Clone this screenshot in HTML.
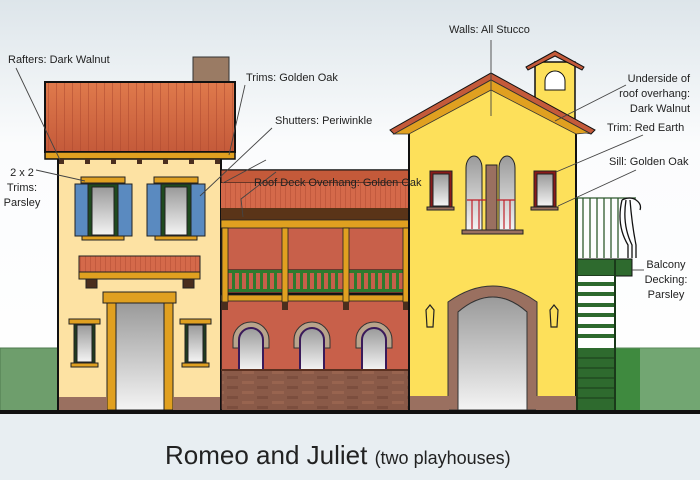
<!DOCTYPE html>
<html><head><meta charset="utf-8"><style>
html,body{margin:0;padding:0;width:700px;height:480px;overflow:hidden;background:#fff}
text{font-family:"Liberation Sans",Arial,sans-serif;fill:#222}
</style></head><body>
<svg width="700" height="480" viewBox="0 0 700 480" xmlns="http://www.w3.org/2000/svg">
<defs>
<linearGradient id="sky" x1="0" y1="0" x2="0" y2="1"><stop offset="0" stop-color="#dde5ea"/><stop offset="0.35" stop-color="#fbfcfd"/><stop offset="1" stop-color="#ffffff"/></linearGradient>
<linearGradient id="glass" x1="0" y1="0" x2="0" y2="1"><stop offset="0" stop-color="#9a9a9a"/><stop offset="1" stop-color="#f4f4f4"/></linearGradient>
<linearGradient id="roof" x1="0" y1="0" x2="0" y2="1"><stop offset="0" stop-color="#e07a4c"/><stop offset="1" stop-color="#c45a3a"/></linearGradient>
<pattern id="vl" width="8" height="10" patternUnits="userSpaceOnUse"><line x1="0.5" y1="0" x2="0.5" y2="10" stroke="#a8442c" stroke-width="0.8" opacity="0.6"/></pattern>
<pattern id="vl2" width="5" height="10" patternUnits="userSpaceOnUse"><line x1="0.5" y1="0" x2="0.5" y2="10" stroke="#a8442c" stroke-width="0.8" opacity="0.5"/></pattern>
<pattern id="brick" width="30" height="10" patternUnits="userSpaceOnUse"><rect width="30" height="10" fill="#8a5a48"/><rect x="2" y="1" width="12" height="3" fill="#98644f"/><rect x="17" y="6" width="11" height="3" fill="#7c4e3e"/></pattern>
</defs>
<rect width="700" height="412" fill="url(#sky)"/>
<rect y="412" width="700" height="68" fill="#e8eef2"/>
<!-- hedges -->
<rect x="0" y="348" width="60" height="63" fill="#6e9e6c" stroke="#4e7a4e"/>
<rect x="615" y="348" width="26" height="63" fill="#3f8a3f"/>
<rect x="640" y="348" width="60" height="63" fill="#72a672"/>
<line x1="615" y1="348" x2="700" y2="348" stroke="#5a8a5a"/>

<!-- LEFT HOUSE -->
<rect x="193" y="57" width="36" height="26" fill="#9a7b64" stroke="#333"/>
<rect x="58" y="158" width="163" height="252" fill="#fde2a3" stroke="#111" stroke-width="2"/>
<rect x="45" y="82" width="190" height="70" fill="url(#roof)"/>
<rect x="45" y="82" width="190" height="70" fill="url(#vl)" stroke="#111" stroke-width="2"/>
<rect x="45" y="152" width="190" height="7" fill="#e0a020" stroke="#111" stroke-width="1.5"/>
<g fill="#4a2e1e"><rect x="59" y="159" width="5" height="5"/><rect x="85" y="159" width="5" height="5"/><rect x="111" y="159" width="5" height="5"/><rect x="137" y="159" width="5" height="5"/><rect x="163" y="159" width="5" height="5"/><rect x="189" y="159" width="5" height="5"/><rect x="215" y="159" width="5" height="5"/></g>
<g stroke="#222">
<rect x="81" y="177" width="44" height="6" fill="#e0a020"/>
<rect x="75" y="184" width="13" height="52" fill="#5a8ac0"/><rect x="118" y="184" width="14" height="52" fill="#5a8ac0"/>
<rect x="88" y="184" width="30" height="52" fill="#1f4a1f"/><rect x="92" y="187" width="22" height="48" fill="url(#glass)"/>
<rect x="82" y="236" width="42" height="4" fill="#e0a020"/>
<rect x="154" y="177" width="44" height="6" fill="#e0a020"/>
<rect x="147" y="184" width="14" height="52" fill="#5a8ac0"/><rect x="191" y="184" width="14" height="52" fill="#5a8ac0"/>
<rect x="161" y="184" width="30" height="52" fill="#1f4a1f"/><rect x="165" y="187" width="22" height="48" fill="url(#glass)"/>
<rect x="155" y="236" width="42" height="4" fill="#e0a020"/>
<rect x="79" y="256" width="121" height="16" fill="#d4694a"/>
<rect x="79" y="256" width="121" height="16" fill="url(#vl2)"/>
<rect x="79" y="272" width="121" height="7" fill="#e0a020"/>
<rect x="86" y="279" width="11" height="9" fill="#4a2e1e"/><rect x="183" y="279" width="11" height="9" fill="#4a2e1e"/>
<rect x="103" y="292" width="73" height="11" fill="#e0a020"/>
<rect x="107" y="303" width="9" height="107" fill="#e0a020"/><rect x="164" y="303" width="9" height="107" fill="#e0a020"/>
<rect x="116" y="303" width="48" height="107" fill="url(#glass)"/>
<rect x="69" y="319" width="31" height="5" fill="#e0a020"/><rect x="74" y="324" width="21" height="39" fill="#1f3a1f"/><rect x="77" y="325" width="15" height="37" fill="url(#glass)"/><rect x="71" y="363" width="27" height="4" fill="#e0a020"/>
<rect x="180" y="319" width="31" height="5" fill="#e0a020"/><rect x="185" y="324" width="21" height="39" fill="#1f3a1f"/><rect x="188" y="325" width="15" height="37" fill="url(#glass)"/><rect x="182" y="363" width="27" height="4" fill="#e0a020"/>
</g>
<rect x="59" y="397" width="48" height="13" fill="#9a7060"/><rect x="173" y="397" width="47" height="13" fill="#9a7060"/>

<!-- MIDDLE -->
<rect x="221" y="170" width="188" height="240" fill="#c8604a" stroke="#111" stroke-width="1.5"/>
<rect x="221" y="170" width="188" height="13" fill="#c45a3a" stroke="#111"/>
<rect x="221" y="183" width="188" height="25" fill="#d4694a"/>
<rect x="221" y="183" width="188" height="25" fill="url(#vl2)"/>
<rect x="221" y="208" width="188" height="12" fill="#5a3418"/>
<rect x="221" y="220" width="188" height="8" fill="#e0a020" stroke="#222" stroke-width="0.8"/>
<rect x="228" y="270" width="176" height="22" fill="#c8604a" stroke="#111"/>
<g fill="#2e7a2e"><rect x="228" y="270" width="176" height="3"/><rect x="228" y="289" width="176" height="3"/>
<g id="bal"><rect x="232" y="272" width="3" height="18"/><rect x="239" y="272" width="3" height="18"/><rect x="246" y="272" width="3" height="18"/><rect x="253" y="272" width="3" height="18"/><rect x="260" y="272" width="3" height="18"/><rect x="267" y="272" width="3" height="18"/><rect x="274" y="272" width="3" height="18"/></g>
<use href="#bal" x="61"/><use href="#bal" x="122"/></g>
<rect x="221" y="293" width="188" height="2" fill="#111"/>
<rect x="221" y="295" width="188" height="6" fill="#e0a020" stroke="#222" stroke-width="0.8"/>
<g fill="#e0a020" stroke="#222" stroke-width="0.8"><rect x="222" y="228" width="6" height="74"/><rect x="282" y="228" width="6" height="74"/><rect x="343" y="228" width="6" height="74"/><rect x="403" y="228" width="6" height="74"/></g>
<g fill="#4a2e1e"><rect x="222" y="302" width="6" height="8"/><rect x="282" y="302" width="6" height="8"/><rect x="343" y="302" width="6" height="8"/><rect x="403" y="302" width="6" height="8"/></g>
<g stroke="#333" stroke-width="1">
<path d="M233 340 A18 18 0 0 1 269 340 L269 348 L263 348 A12 12 0 0 0 239 348 L233 348Z" fill="#b8a48c"/>
<path d="M239 370 V340 A12 12 0 0 1 263 340 V370Z" fill="url(#glass)" stroke="#3a1a5a" stroke-width="2"/>
<path d="M294 340 A18 18 0 0 1 330 340 L330 348 L324 348 A12 12 0 0 0 300 348 L294 348Z" fill="#b8a48c"/>
<path d="M300 370 V340 A12 12 0 0 1 324 340 V370Z" fill="url(#glass)" stroke="#3a1a5a" stroke-width="2"/>
<path d="M356 340 A18 18 0 0 1 392 340 L392 348 L386 348 A12 12 0 0 0 362 348 L356 348Z" fill="#b8a48c"/>
<path d="M362 370 V340 A12 12 0 0 1 386 340 V370Z" fill="url(#glass)" stroke="#3a1a5a" stroke-width="2"/>
</g>
<rect x="222" y="370" width="186" height="40" fill="url(#brick)"/>
<line x1="221" y1="370" x2="409" y2="370" stroke="#5a3020" stroke-width="2"/>

<!-- RIGHT TOWER -->
<rect x="535" y="62" width="40" height="60" fill="#fde05a" stroke="#111" stroke-width="1.5"/>
<path d="M526 67 L555 51 L584 67 L582 70 L555 56 L528 70Z" fill="#c45a3a" stroke="#111"/>
<path d="M545 90 V81 A10 10 0 0 1 565 81 V90Z" fill="#fff" stroke="#111"/>
<path d="M409 132 L491 84 L576 132 V410 H409Z" fill="#fde05a" stroke="#111" stroke-width="2"/>
<path d="M390 130 L491 73 L595 130 L591 134 L491 80 L394 134Z" fill="#c45a3a" stroke="#111"/>
<path d="M394 134 L491 80 L591 134 L586 133 L576 134 L491 90 L409 134 L400 134 Z" fill="#e0a020" stroke="#333" stroke-width="0.8"/>
<g stroke="#222">
<rect x="430" y="171" width="22" height="36" fill="#8a1a1a"/><rect x="433" y="174" width="16" height="32" fill="url(#glass)"/><rect x="427" y="207" width="27" height="3" fill="#9a7060"/>
<rect x="534" y="171" width="22" height="36" fill="#8a1a1a"/><rect x="537" y="174" width="16" height="32" fill="url(#glass)"/><rect x="531" y="207" width="27" height="3" fill="#9a7060"/>
<path d="M466 230 V168 A8 12 0 0 1 482 168 V230Z" fill="url(#glass)"/>
<path d="M499 230 V168 A8 12 0 0 1 515 168 V230Z" fill="url(#glass)"/>
<rect x="486" y="165" width="11" height="66" fill="#9a7060"/>
<rect x="462" y="230" width="61" height="4" fill="#9a7060"/>
</g>
<g stroke="#c0202a" stroke-width="1.2"><line x1="467" y1="200" x2="486" y2="200"/><line x1="497" y1="200" x2="515" y2="200"/><line x1="472" y1="200" x2="472" y2="229"/><line x1="479" y1="200" x2="479" y2="229"/><line x1="504" y1="200" x2="504" y2="229"/><line x1="510" y1="200" x2="510" y2="229"/></g>
<path d="M448 410 V302 Q493 270 537 302 V410 H527 V312 Q493 282 458 312 V410Z" fill="#9a7060" stroke="#333"/>
<path d="M458 410 V312 Q493 282 527 312 V410Z" fill="url(#glass)" stroke="#333"/>
<rect x="410" y="396" width="39" height="14" fill="#9a7060"/><rect x="536" y="396" width="40" height="14" fill="#9a7060"/>
<g fill="none" stroke="#222" stroke-width="1.2"><path d="M426 310 L430 305 L434 310 L433 327 L427 327Z"/><path d="M550 310 L554 305 L558 310 L557 327 L551 327Z"/></g>

<!-- balcony & stairs -->
<g stroke="#2e5a2e" stroke-width="1.3"><line x1="577" y1="198" x2="636" y2="198"/>
<line x1="583" y1="198" x2="583" y2="258"/><line x1="590" y1="198" x2="590" y2="258"/><line x1="597" y1="198" x2="597" y2="258"/><line x1="604" y1="198" x2="604" y2="258"/><line x1="611" y1="198" x2="611" y2="258"/><line x1="618" y1="198" x2="618" y2="258"/></g>
<path d="M622 200 Q616 225 628 245 V258 M626 200 Q622 225 632 245 V258 M630 200 Q632 225 636 245 V258 M622 200 Q630 196 636 200 Q642 204 640 210" fill="none" stroke="#111" stroke-width="1.3"/>
<rect x="577" y="259" width="55" height="17" fill="#2e6a2e" stroke="#111"/>
<rect x="577" y="276" width="38" height="134" fill="#fff"/>
<g fill="#2e6a2e"><rect x="577" y="282" width="38" height="4"/><rect x="577" y="292" width="38" height="4"/><rect x="577" y="303" width="38" height="4"/><rect x="577" y="313" width="38" height="4"/><rect x="577" y="324" width="38" height="4"/><rect x="577" y="334" width="38" height="4"/><rect x="577" y="348" width="38" height="62"/></g>
<g stroke="#1a3a1a" stroke-width="1"><line x1="577" y1="358" x2="615" y2="358"/><line x1="577" y1="368" x2="615" y2="368"/><line x1="577" y1="378" x2="615" y2="378"/><line x1="577" y1="388" x2="615" y2="388"/><line x1="577" y1="398" x2="615" y2="398"/></g>
<line x1="577" y1="198" x2="577" y2="410" stroke="#1a3a1a" stroke-width="2"/><line x1="615" y1="259" x2="615" y2="410" stroke="#1a3a1a" stroke-width="2"/>

<rect x="0" y="410" width="700" height="4" fill="#111"/>

<g stroke="#444" stroke-width="0.9" fill="none">
<line x1="16" y1="68" x2="60" y2="160"/>
<line x1="245" y1="85" x2="229" y2="155"/>
<line x1="272" y1="128" x2="200" y2="196"/>
<line x1="266" y1="160" x2="223" y2="183"/>
<polyline points="276,172 241,199 243,217"/>
<line x1="36" y1="170" x2="85" y2="181"/>
<line x1="491" y1="40" x2="491" y2="116"/>
<line x1="626" y1="85" x2="555" y2="121"/>
<line x1="643" y1="135" x2="556" y2="172"/>
<line x1="636" y1="170" x2="558" y2="206"/>
<line x1="644" y1="270" x2="632" y2="270"/>
</g>
<g font-size="11">
<text x="8" y="63">Rafters: Dark Walnut</text>
<text x="246" y="81">Trims: Golden Oak</text>
<text x="275" y="124">Shutters: Periwinkle</text>
<text x="254" y="186">Roof Deck Overhang: Golden Oak</text>
<text x="449" y="33">Walls: All Stucco</text>
<text x="690" y="82" text-anchor="end">Underside of</text>
<text x="690" y="97" text-anchor="end">roof overhang:</text>
<text x="690" y="112" text-anchor="end">Dark Walnut</text>
<text x="607" y="131">Trim: Red Earth</text>
<text x="609" y="165">Sill: Golden Oak</text>
<text x="666" y="268" text-anchor="middle">Balcony</text>
<text x="666" y="283" text-anchor="middle">Decking:</text>
<text x="666" y="298" text-anchor="middle">Parsley</text>
<text x="22" y="176" text-anchor="middle">2 x 2</text>
<text x="22" y="191" text-anchor="middle">Trims:</text>
<text x="22" y="206" text-anchor="middle">Parsley</text>
</g>
<text x="165" y="464" font-size="26" fill="#111">Romeo and Juliet <tspan font-size="18">(two playhouses)</tspan></text>
</svg>
</body></html>
